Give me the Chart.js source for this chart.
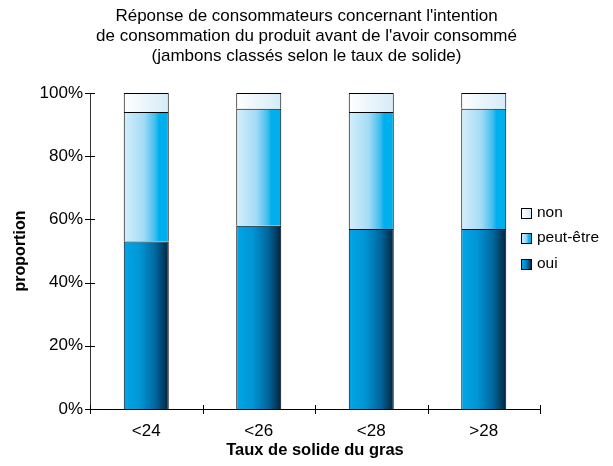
<!DOCTYPE html>
<html>
<head>
<meta charset="utf-8">
<script src="https://cdn.jsdelivr.net/npm/chart.js@4/dist/chart.umd.min.js"></script>
<style>
  body { margin: 0; background: #fff; }
  #wrap { width: 613px; height: 466px; }
</style>
</head>
<body>
<div id="wrap"><canvas id="barChart" width="613" height="466"></canvas></div>
<script>
// data
const categories = ['<24', '<26', '<28', '>28'];
const oui = [53, 58, 57, 57];
const peutEtre = [41, 37, 37, 38];
const non = [6, 5, 6, 5];
const yTicks = [0, 20, 40, 60, 80, 100];

const titleLines = [
  'Réponse de consommateurs concernant l\'intention',
  'de consommation du produit avant de l\'avoir consommé',
  '(jambons classés selon le taux de solide)'
];

const barPct = 0.4;

// gradient stops, left to right across each bar
const ouiStops = [[0, '#00a6e6'], [0.35, '#0096d6'], [0.7, '#00689e'], [1, '#00243f']];
const peutStops = [[0, '#d6effb'], [0.45, '#a2dbf5'], [0.7, '#40bdee'], [0.78, '#00b0ee'], [1, '#00aeec']];
const nonStops = [[0, '#ffffff'], [1, '#d4ebf8']];

function barGradient(stops) {
  return function (ctx) {
    var chart = ctx.chart;
    if (!chart.chartArea || ctx.dataIndex === undefined) return stops[0][1];
    var xs = chart.scales.x;
    var w = (xs.width / categories.length) * barPct;
    var cx = xs.getPixelForValue(ctx.dataIndex);
    var g = chart.ctx.createLinearGradient(cx - w / 2, 0, cx + w / 2, 0);
    stops.forEach(function (s) { g.addColorStop(s[0], s[1]); });
    return g;
  };
}

// tick marks that cross the axis lines
const crossTicks = {
  id: 'crossTicks',
  afterDraw: function (chart) {
    var c = chart.ctx;
    var xs = chart.scales.x;
    var ys = chart.scales.y;
    var a = chart.chartArea;
    c.save();
    c.strokeStyle = '#000';
    c.lineWidth = 1;
    c.beginPath();
    yTicks.forEach(function (v) {
      var y = Math.round(ys.getPixelForValue(v)) + 0.5;
      c.moveTo(a.left - 5, y);
      c.lineTo(a.left + 5, y);
    });
    var step = xs.width / categories.length;
    for (var i = 0; i <= categories.length; i++) {
      var x = Math.round(xs.left + i * step) + 0.5;
      c.moveTo(x, a.bottom - 4);
      c.lineTo(x, a.bottom + 5);
    }
    c.stroke();
    c.restore();
  }
};

// legend drawn inside the right part of the plot
const sideLegend = {
  id: 'sideLegend',
  afterDraw: function (chart) {
    var c = chart.ctx;
    var items = [
      { label: 'non', stops: nonStops, y: 213 },
      { label: 'peut-être', stops: peutStops, y: 238 },
      { label: 'oui', stops: ouiStops, y: 264 }
    ];
    c.save();
    c.font = '15.5px "Liberation Sans", Arial, sans-serif';
    c.textBaseline = 'middle';
    c.textAlign = 'left';
    items.forEach(function (it) {
      var bx = 521, by = it.y - 5, s = 10;
      var g = c.createLinearGradient(bx, 0, bx + s, 0);
      it.stops.forEach(function (st) { g.addColorStop(st[0], st[1]); });
      c.fillStyle = g;
      c.fillRect(bx, by, s, s);
      c.strokeStyle = '#000';
      c.lineWidth = 1;
      c.strokeRect(bx + 0.5, by + 0.5, s, s);
      c.fillStyle = '#000';
      c.fillText(it.label, 537, it.y);
    });
    c.restore();
  }
};

Chart.defaults.font.family = '"Liberation Sans", Arial, sans-serif';
Chart.defaults.color = '#000';

function createBarChart() {
  var ctx = document.getElementById('barChart').getContext('2d');

  var barChart = new Chart(ctx, {
    type: 'bar',
    data: {
      labels: categories,
      datasets: [
        {
          label: 'oui',
          data: oui,
          backgroundColor: barGradient(ouiStops),
          borderColor: '#000',
          borderWidth: 1,
          barPercentage: barPct,
          categoryPercentage: 1
        },
        {
          label: 'peut-être',
          data: peutEtre,
          backgroundColor: barGradient(peutStops),
          borderColor: '#000',
          borderWidth: 1,
          barPercentage: barPct,
          categoryPercentage: 1
        },
        {
          label: 'non',
          data: non,
          backgroundColor: barGradient(nonStops),
          borderColor: '#000',
          borderWidth: 1,
          barPercentage: barPct,
          categoryPercentage: 1
        }
      ]
    },
    options: {
      responsive: false,
      animation: false,
      devicePixelRatio: 1,
      layout: {
        padding: 0
      },
      scales: {
        x: {
          stacked: true,
          grid: { display: false, drawTicks: false, tickLength: 0 },
          border: { display: true, color: '#000', width: 1 },
          ticks: { font: { size: 17 }, padding: 12 },
          title: {
            display: true,
            text: 'Taux de solide du gras',
            font: { size: 16.5, weight: 'bold' },
            padding: { top: 0, bottom: 6 }
          },
          afterFit: function (scale) { scale.height = 57; }
        },
        y: {
          stacked: true,
          min: 0,
          max: 100,
          grid: { display: false, drawTicks: false, tickLength: 0 },
          border: { display: true, color: '#333', width: 1 },
          ticks: {
            stepSize: 20,
            font: { size: 17 },
            padding: 7,
            callback: function (v) { return v + '%'; }
          },
          title: {
            display: true,
            text: 'proportion',
            font: { size: 16, weight: 'bold' },
            padding: { top: 11, bottom: 0 }
          },
          afterFit: function (scale) { scale.width = 90; }
        },
        // empty right-hand axis, only reserves the space the legend sits in
        yRight: {
          position: 'right',
          min: 0,
          max: 100,
          grid: { display: false, drawTicks: false, tickLength: 0 },
          border: { display: false },
          ticks: { display: false },
          afterFit: function (scale) { scale.width = 73; }
        }
      },
      plugins: {
        legend: { display: false },
        tooltip: { enabled: false },
        title: {
          display: true,
          text: titleLines,
          font: { size: 17, weight: 'normal', lineHeight: '20px' },
          padding: { top: 6, bottom: 27 }
        }
      }
    },
    plugins: [crossTicks, sideLegend]
  });

  return barChart;
}

var barChart = createBarChart();
</script>
</body>
</html>
